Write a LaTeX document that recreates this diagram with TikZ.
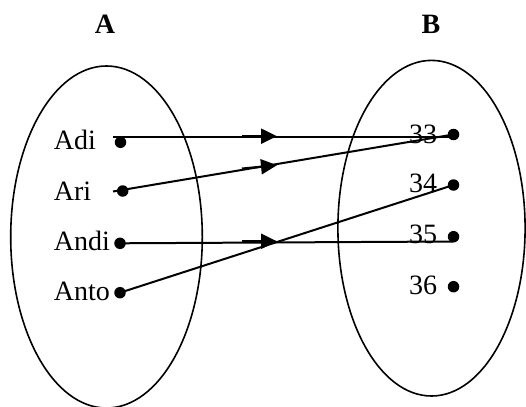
\documentclass[tikz,border=0pt]{standalone}
\usepackage{fontspec}
\setmainfont{Liberation Serif}
\usetikzlibrary{arrows.meta}
\tikzset{
  dot/.style={circle,fill=black,inner sep=0pt,minimum size=11.5pt},
  lbl/.style={anchor=base west,inner sep=0pt,font=\fontsize{28}{30}\selectfont},
  setname/.style={anchor=base,inner sep=0pt,font=\fontsize{28}{30}\selectfont\bfseries},
  conn/.style={line width=2pt},
  midarrow/.style={line width=2.2pt,-{Triangle[length=16pt,width=15pt]}},
  setline/.style={line width=1.6pt}
}
\begin{document}
\begin{tikzpicture}[x=1pt,y=-1pt]
\useasboundingbox (0,0) rectangle (526,406);
% sets
\draw[setline] (106.5,237) ellipse [x radius=95.8, y radius=171];
\draw[setline] (431.5,228.2) ellipse [x radius=93.6, y radius=167.8];
\node[setname] (A) at (105,33.6) {A};
\node[setname] (B) at (431,33.6) {B};
% domain labels
\node[lbl] (tAdi) at (53.7,149.3) {Adi};
\node[lbl] (tAri) at (53.7,200) {Ari};
\node[lbl] (tAndi) at (53.7,250.5) {Andi};
\node[lbl] (tAnto) at (53.7,300.7) {Anto};
% codomain labels
\node[lbl] (t33) at (409,143.3) {33};
\node[lbl] (t34) at (409,192.7) {34};
\node[lbl] (t35) at (409,243.3) {35};
\node[lbl] (t36) at (409,294.5) {36};
% dots
\node[dot] (adi) at (120.5,142.3) {};
\node[dot] (ari) at (122.7,191) {};
\node[dot] (andi) at (120,243.3) {};
\node[dot] (anto) at (120,292.7) {};
\node[dot] (d33) at (453.5,134.5) {};
\node[dot] (d34) at (453.5,185) {};
\node[dot] (d35) at (453.5,236.7) {};
\node[dot] (d36) at (453.5,286.7) {};
% line start / end points
\coordinate (adiS) at (113.3,136.7);
\coordinate (d33a) at (453.3,136.7);
\coordinate (ariS) at (113,191.5);
\coordinate (andiE) at (453.3,241.5);
% connectors
\draw[conn] (adiS) -- (d33a);
\draw[conn] (ariS) -- (d33.center);
\draw[conn] (andi.center) -- (andiE);
\draw[conn] (anto.center) -- (d34.center);
% arrow heads
\coordinate (a1s) at (242,136.2);
\coordinate (a1e) at (277,136.2);
\coordinate (a2s) at (242,168.6);
\coordinate (a2e) at (277,165.2);
\coordinate (a3s) at (242,241.3);
\coordinate (a3e) at (277,241.3);
\draw[midarrow] (a1s) -- (a1e);
\draw[midarrow] (a2s) -- (a2e);
\draw[midarrow] (a3s) -- (a3e);
\end{tikzpicture}
\end{document}
